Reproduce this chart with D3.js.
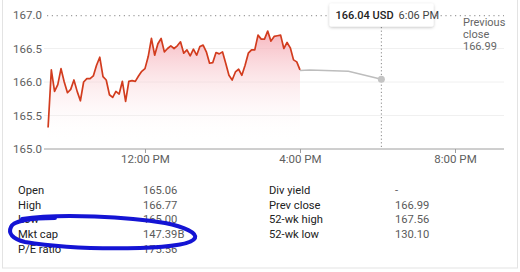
<!DOCTYPE html>
<html>
<head>
<meta charset="utf-8">
<script src="https://cdn.jsdelivr.net/npm/d3@7"></script>
<style>
  html, body { margin: 0; padding: 0; background: #fff; }
  svg { display: block; font-family: Roboto, "Noto Sans", sans-serif; }
</style>
</head>
<body>
<svg id="chart" width="520" height="272"></svg>
<script>
// ---- data ----
const sessionTimes = ["09:30","09:35","09:40","09:45","09:50","09:55","10:00","10:05","10:10","10:15","10:20","10:25","10:30","10:35","10:40","10:45","10:50","10:55","11:00","11:05","11:10","11:15","11:20","11:25","11:30","11:35","11:40","11:45","11:50","11:55","12:00","12:05","12:10","12:15","12:20","12:25","12:30","12:35","12:40","12:45","12:50","12:55","13:00","13:05","13:10","13:15","13:20","13:25","13:30","13:35","13:40","13:45","13:50","13:55","14:00","14:05","14:10","14:15","14:20","14:25","14:30","14:35","14:40","14:45","14:50","14:55","15:00","15:05","15:10","15:15","15:20","15:25","15:30","15:35","15:40","15:45","15:50","15:55","16:00"];
const sessionPrices = [165.32,166.18,165.86,165.96,166.20,166.00,165.84,165.89,166.03,165.86,165.72,166.00,166.05,166.05,166.09,166.25,166.37,166.08,166.03,165.81,165.77,165.86,165.82,166.01,165.71,166.01,166.02,166.01,166.09,166.16,166.20,166.38,166.65,166.40,166.57,166.65,166.45,166.50,166.54,166.50,166.54,166.60,166.43,166.48,166.39,166.49,166.40,166.53,166.55,166.45,166.28,166.29,166.44,166.42,166.45,166.28,166.10,166.03,166.15,166.19,166.10,166.25,166.43,166.48,166.48,166.70,166.64,166.64,166.76,166.61,166.68,166.69,166.70,166.50,166.59,166.51,166.33,166.30,166.18];
const afterTimes = ["16:00","16:15","17:15","18:06"];
const afterPrices = [166.17,166.18,166.16,166.04];
const yTicks = [165.0, 165.5, 166.0, 166.5, 167.0];
const xTickTimes = ["12:00","16:00","20:00"];
const xTickLabels = ["12:00 PM","4:00 PM","8:00 PM"];
const prevClose = 166.99;
const hover = { time: "18:06", price: 166.04, label: "166.04 USD", timeLabel: "6:06 PM" };
const statLabelsLeft = ["Open","High","Low","Mkt cap","P/E ratio"];
const statValuesLeft = ["165.06","166.77","165.00","147.39B","175.56"];
const statLabelsRight = ["Div yield","Prev close","52-wk high","52-wk low"];
const statValuesRight = ["-","166.99","167.56","130.10"];

// ---- setup ----
const svg = d3.select("#chart");
const parse = s => { const [h, m] = s.split(":").map(Number); return new Date(2020, 0, 1, h, m); };
const session = sessionTimes.map((t, i) => ({ t: parse(t), v: sessionPrices[i] }));
const after = afterTimes.map((t, i) => ({ t: parse(t), v: afterPrices[i] }));

const x = d3.scaleTime().domain([parse("09:30"), parse("20:00")]).range([48.1, 455]);
const y = d3.scaleLinear().domain([165, 167]).range([149, 15]);
const plotL = 44, plotR = 504;

// card border
svg.append("rect").attr("x", 2.5).attr("y", -5).attr("width", 515).attr("height", 273)
  .attr("fill", "none").attr("stroke", "#e3e3e3").attr("stroke-width", 1);

const defs = svg.append("defs");
const grad = defs.append("linearGradient").attr("id", "fillGrad")
  .attr("gradientUnits", "userSpaceOnUse")
  .attr("x1", 0).attr("y1", y(166.77)).attr("x2", 0).attr("y2", y(165.1));
grad.append("stop").attr("offset", 0).attr("stop-color", "#f4a3ad").attr("stop-opacity", 0.8);
grad.append("stop").attr("offset", 1).attr("stop-color", "#ffffff").attr("stop-opacity", 0);
const shadow = defs.append("filter").attr("id", "shadow").attr("x", -0.2).attr("y", -0.4).attr("width", 1.4).attr("height", 1.8);
shadow.append("feDropShadow").attr("dx", 0).attr("dy", 1).attr("stdDeviation", 1.5).attr("flood-color", "#000").attr("flood-opacity", 0.25);

// gridlines
svg.append("g").selectAll("line").data(yTicks.filter(v => v > 165 && v < 167)).join("line")
  .attr("x1", plotL).attr("x2", plotR).attr("y1", d => y(d)).attr("y2", d => y(d))
  .attr("stroke", "#f0f0f0").attr("stroke-width", 1);

// previous close dotted line
svg.append("line").attr("x1", plotL + 3).attr("x2", plotR).attr("y1", y(prevClose)).attr("y2", y(prevClose))
  .attr("stroke", "#9e9e9e").attr("stroke-width", 1.2).attr("stroke-dasharray", "1.2,3.6");

// baseline axis
svg.append("line").attr("x1", plotL).attr("x2", plotR).attr("y1", y(165)).attr("y2", y(165))
  .attr("stroke", "#9e9e9e").attr("stroke-width", 1);

// y labels
svg.append("g").selectAll("text").data(yTicks).join("text")
  .attr("x", 42).attr("y", d => y(d)).attr("dy", "0.36em").attr("text-anchor", "end")
  .attr("font-size", 11.5).attr("fill", "#606060").text(d => d.toFixed(1));

// x axis ticks and labels
const xAxis = d3.axisBottom(x).tickValues(xTickTimes.map(parse))
  .tickFormat((d, i) => xTickLabels[i]).tickSize(4).tickPadding(2);
const gx = svg.append("g").attr("transform", `translate(0,${y(165)})`).call(xAxis);
gx.select(".domain").remove();
gx.selectAll(".tick line").attr("stroke", "#9e9e9e");
gx.selectAll(".tick text").attr("font-size", 11.5).attr("fill", "#606060").attr("font-family", "Roboto, sans-serif");

// area
const area = d3.area().x(d => x(d.t)).y0(y(165)).y1(d => y(d.v));
svg.append("path").datum(session).attr("d", area).attr("fill", "url(#fillGrad)");

// after hours line
svg.append("path").datum(after).attr("d", d3.line().x(d => x(d.t)).y(d => y(d.v)))
  .attr("fill", "none").attr("stroke", "#bdbdbd").attr("stroke-width", 1.5);

// session line
svg.append("path").datum(session).attr("d", d3.line().x(d => x(d.t)).y(d => y(d.v)))
  .attr("fill", "none").attr("stroke", "#d23c1e").attr("stroke-width", 1.7).attr("stroke-linejoin", "round");

// hover
const hx = x(parse(hover.time));
svg.append("line").attr("x1", hx).attr("x2", hx).attr("y1", 27).attr("y2", y(165))
  .attr("stroke", "#888").attr("stroke-width", 1).attr("stroke-dasharray", "1.2,2.4");
svg.append("circle").attr("cx", hx).attr("cy", y(hover.price)).attr("r", 3.5).attr("fill", "#c4c4c4");

const tip = svg.append("g");
tip.append("rect").attr("x", 329.5).attr("y", 3.5).attr("width", 104).attr("height", 23).attr("rx", 2)
  .attr("fill", "#fff").attr("filter", "url(#shadow)");
const tipText = tip.append("text").attr("x", 335.5).attr("y", 19).attr("font-size", 11).attr("fill", "#222");
tipText.append("tspan").attr("font-weight", 500).text(hover.label);
tipText.append("tspan").attr("dx", 5).attr("fill", "#444").text(hover.timeLabel);

// previous close label
const pc = svg.append("text").attr("x", 463).attr("font-size", 11).attr("fill", "#666");
["Previous", "close", prevClose.toFixed(2)].forEach((t, i) =>
  pc.append("tspan").attr("x", 463).attr("y", 26 + i * 12).text(t));

// stats table
const rowY = i => 194 + i * 14.7;
const stats = svg.append("g").attr("font-size", 11.2);
stats.selectAll("text.ll").data(statLabelsLeft).join("text").attr("class", "ll")
  .attr("x", 18).attr("y", (d, i) => rowY(i)).attr("fill", "#222").text(d => d);
stats.selectAll("text.lv").data(statValuesLeft).join("text").attr("class", "lv")
  .attr("x", 143).attr("y", (d, i) => rowY(i)).attr("fill", "#5a5a5a").text(d => d);
stats.selectAll("text.rl").data(statLabelsRight).join("text").attr("class", "rl")
  .attr("x", 269).attr("y", (d, i) => rowY(i)).attr("fill", "#222").text(d => d);
stats.selectAll("text.rv").data(statValuesRight).join("text").attr("class", "rv")
  .attr("x", 395).attr("y", (d, i) => rowY(i)).attr("fill", "#5a5a5a").text(d => d);

// hand-drawn blue annotation loop
svg.append("path")
  .attr("d", "M22,219 C60,213 130,217 165,223 C185,227 197,233 195,238 C192,244 170,247 140,248 C100,249 55,247 25,242 C12,239 8,233 11,227 C13,221 30,218 55,218")
  .attr("fill", "none").attr("stroke", "#1414d4").attr("stroke-width", 4).attr("stroke-linecap", "round");
</script>
</body>
</html>
